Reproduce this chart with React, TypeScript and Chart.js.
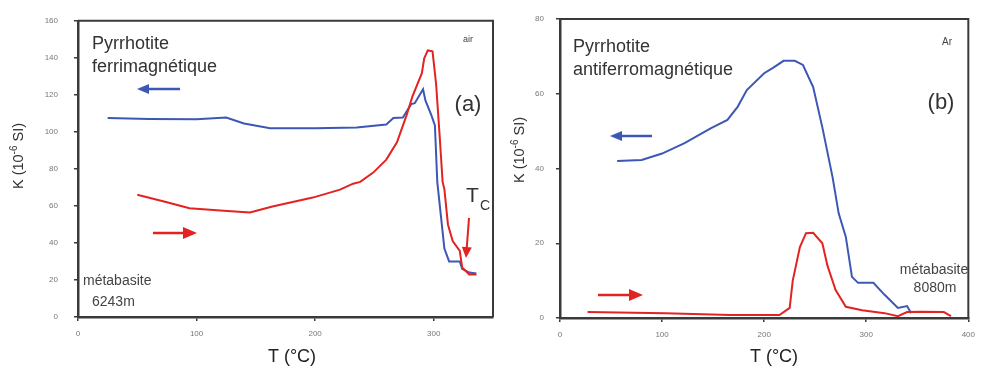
import React, { useEffect, useRef } from "react";
import { Chart, registerables } from "chart.js";

Chart.register(...registerables);

// ---- Panel (a): air, métabasite 6243m ----
const aBlueT = [25, 60, 100, 125, 140, 162, 200, 235, 260, 266, 274, 281, 284, 291, 293, 298, 301, 303, 306, 309, 313, 322, 324, 330, 336];
const aBlueK = [107.5, 107, 106.8, 107.7, 104.5, 102, 102, 102.3, 104, 107.5, 107.7, 115, 115.5, 123, 117, 109, 103.5, 73, 55, 37, 30, 30, 26, 24, 23.5];
const aRedT = [50, 75, 94, 120, 145, 164, 198, 221, 232, 238, 249, 260, 269, 277, 282, 290, 292, 295, 299, 302, 305, 307.5, 309, 312, 316, 322, 324, 330, 336];
const aRedK = [66, 62, 58.7, 57.5, 56.5, 59.7, 64.5, 68.8, 72, 73, 78, 85, 94.4, 108.8, 119, 131.7, 139.7, 144, 143.5, 126, 98, 73, 69, 50, 41, 35.7, 26.7, 23, 23];

// ---- Panel (b): Ar, métabasite 8080m ----
const bBlueT = [56, 80, 100, 122, 148, 164, 174, 183, 200, 209, 219, 230, 238, 248, 257, 267, 273, 280, 286, 292, 307, 318, 331, 340, 344];
const bBlueK = [42, 42.3, 44, 46.8, 50.8, 53, 56.5, 61, 65.5, 67, 68.8, 68.8, 67.7, 61.8, 51, 37.7, 28, 21.7, 11, 9.4, 9.4, 6.2, 2.7, 3.2, 1.3];
const bRedT = [27, 103, 167, 215, 225, 228, 235, 241, 248, 257, 262, 270, 280, 296, 318, 331, 340, 354, 376, 383];
const bRedK = [1.6, 1.3, 0.8, 0.8, 2.7, 10, 19, 22.7, 22.8, 20, 14, 7.5, 3, 2.1, 1.3, 0.5, 1.6, 1.7, 1.6, 0.5];

const xTicksA = [0, 100, 200, 300];
const xTicksB = [0, 100, 200, 300, 400];

const BLUE = "#3d57b4";
const RED = "#e32222";
const AXIS = "#3a3a3a";
const FONT = '"Liberation Sans", Arial, sans-serif';

const H = 367;

function pts(t: number[], k: number[]) {
  return t.map((x, i) => ({ x, y: k[i] }));
}

function arrow(ctx: CanvasRenderingContext2D, x1: number, y1: number, x2: number, y2: number, color: string, lw: number, hl: number, hw: number) {
  const ang = Math.atan2(y2 - y1, x2 - x1);
  ctx.save();
  ctx.strokeStyle = color;
  ctx.fillStyle = color;
  ctx.lineWidth = lw;
  ctx.beginPath();
  ctx.moveTo(x1, y1);
  ctx.lineTo(x2 - Math.cos(ang) * hl * 0.8, y2 - Math.sin(ang) * hl * 0.8);
  ctx.stroke();
  ctx.beginPath();
  ctx.moveTo(x2, y2);
  ctx.lineTo(x2 - Math.cos(ang) * hl - Math.sin(ang) * hw / 2, y2 - Math.sin(ang) * hl + Math.cos(ang) * hw / 2);
  ctx.lineTo(x2 - Math.cos(ang) * hl + Math.sin(ang) * hw / 2, y2 - Math.sin(ang) * hl - Math.cos(ang) * hw / 2);
  ctx.closePath();
  ctx.fill();
  ctx.restore();
}

function text(ctx: CanvasRenderingContext2D, s: string, x: number, y: number, size: number, align: CanvasTextAlign = "left", color = "#333") {
  ctx.save();
  ctx.font = `${size}px ${FONT}`;
  ctx.fillStyle = color;
  ctx.textAlign = align;
  ctx.textBaseline = "middle";
  ctx.fillText(s, x, y);
  ctx.restore();
}

function yTitle(ctx: CanvasRenderingContext2D, cx: number, cy: number) {
  ctx.save();
  ctx.translate(cx, cy);
  ctx.rotate(-Math.PI / 2);
  ctx.fillStyle = "#333";
  ctx.textBaseline = "middle";
  const main = 14.5;
  const sup = 10;
  const p1 = "K (10";
  const p2 = "-6";
  const p3 = " SI)";
  ctx.font = `${main}px ${FONT}`;
  const w1 = ctx.measureText(p1).width;
  const w3 = ctx.measureText(p3).width;
  ctx.font = `${sup}px ${FONT}`;
  const w2 = ctx.measureText(p2).width;
  let x = -(w1 + w2 + w3) / 2;
  ctx.font = `${main}px ${FONT}`;
  ctx.fillText(p1, x, 0);
  x += w1;
  ctx.font = `${sup}px ${FONT}`;
  ctx.fillText(p2, x, -5);
  x += w2;
  ctx.font = `${main}px ${FONT}`;
  ctx.fillText(p3, x, 0);
  ctx.restore();
}

function xTitle(ctx: CanvasRenderingContext2D, cx: number, cy: number) {
  text(ctx, "T (°C)", cx, cy, 18, "center", "#222");
}

type PanelDef = {
  left: number;
  width: number;
  areaL: number;
  areaR: number;
  areaT: number;
  areaB: number;
  xMax: number;
  yMax: number;
  xTicks: number[];
  blue: { x: number; y: number }[];
  red: { x: number; y: number }[];
  yPad: number;
  decorate: (ctx: CanvasRenderingContext2D) => void;
};

const panelA: PanelDef = {
  left: 0,
  width: 500,
  areaL: 78,
  areaR: 493,
  areaT: 17,
  areaB: 317,
  xMax: 350,
  yMax: 160,
  xTicks: xTicksA,
  blue: pts(aBlueT, aBlueK),
  red: pts(aRedT, aRedK),
  yPad: 16,
  decorate: (ctx) => {
    text(ctx, "Pyrrhotite", 92, 44, 18);
    text(ctx, "ferrimagnétique", 92, 67, 18);
    text(ctx, "air", 463, 40, 9, "left", "#444");
    text(ctx, "(a)", 468, 105, 22, "center", "#333");
    text(ctx, "métabasite", 83, 281, 14, "left", "#444");
    text(ctx, "6243m", 92, 302, 14, "left", "#444");
    arrow(ctx, 180, 89, 137, 89, BLUE, 2.5, 12, 10);
    arrow(ctx, 153, 233, 197, 233, RED, 2.5, 14, 12);
    // T_C label and arrow
    text(ctx, "T", 466, 196, 21, "left", "#333");
    text(ctx, "C", 480, 206, 14, "left", "#333");
    arrow(ctx, 469, 218, 466, 258, RED, 2, 11, 10);
    yTitle(ctx, 19, 156);
    xTitle(ctx, 292, 357);
  },
};

const panelB: PanelDef = {
  left: 500,
  width: 483,
  areaL: 60,
  areaR: 476,
  areaT: 19,
  areaB: 318,
  xMax: 400,
  yMax: 80,
  xTicks: xTicksB,
  blue: pts(bBlueT, bBlueK),
  red: pts(bRedT, bRedK),
  yPad: 12,
  decorate: (ctx) => {
    text(ctx, "Pyrrhotite", 73, 47, 18);
    text(ctx, "antiferromagnétique", 73, 70, 18);
    text(ctx, "Ar", 447, 42, 10, "center", "#444");
    text(ctx, "(b)", 441, 103, 22, "center", "#333");
    text(ctx, "métabasite", 434, 270, 14, "center", "#444");
    text(ctx, "8080m", 435, 288, 14, "center", "#444");
    arrow(ctx, 152, 136, 110, 136, BLUE, 2.5, 12, 10);
    arrow(ctx, 98, 295, 143, 295, RED, 2.5, 14, 12);
    yTitle(ctx, 20, 150);
    xTitle(ctx, 274, 357);
  },
};

function Panel({ def }: { def: PanelDef }) {
  const ref = useRef<HTMLCanvasElement | null>(null);
  useEffect(() => {
    if (!ref.current) return;
    const framePlugin = {
      id: "frameDeco",
      afterDraw(chart: any) {
        const ctx = chart.ctx as CanvasRenderingContext2D;
        const a = chart.chartArea;
        ctx.save();
        ctx.strokeStyle = AXIS;
        ctx.lineWidth = 2;
        ctx.beginPath();
        ctx.moveTo(a.left, a.top);
        ctx.lineTo(a.right, a.top);
        ctx.lineTo(a.right, a.bottom);
        ctx.stroke();
        ctx.restore();
        def.decorate(ctx);
      },
    };
    const chart = new Chart(ref.current, {
      type: "scatter",
      data: {
        datasets: [
          {
            data: def.red,
            showLine: true,
            borderColor: RED,
            borderWidth: 2,
            pointRadius: 0,
            tension: 0,
          },
          {
            data: def.blue,
            showLine: true,
            borderColor: BLUE,
            borderWidth: 2,
            pointRadius: 0,
            tension: 0,
          },
        ],
      },
      options: {
        animation: false,
        responsive: false,
        maintainAspectRatio: false,
        events: [],
        layout: {
          padding: { left: 0, top: def.areaT, right: def.width - def.areaR, bottom: 0 },
        },
        plugins: { legend: { display: false }, tooltip: { enabled: false }, title: { display: false } },
        scales: {
          x: {
            type: "linear",
            min: 0,
            max: def.xMax,
            afterFit: (s: any) => {
              s.height = H - def.areaB;
            },
            afterBuildTicks: (s: any) => {
              s.ticks = def.xTicks.map((v) => ({ value: v }));
            },
            border: { display: true, color: AXIS, width: 2.5 },
            grid: { drawOnChartArea: false, drawTicks: true, tickLength: 4, color: AXIS, lineWidth: 1.5 },
            ticks: { color: "#777", font: { size: 8, family: FONT }, padding: 8, maxRotation: 0 },
          },
          y: {
            type: "linear",
            min: 0,
            max: def.yMax,
            afterFit: (s: any) => {
              s.width = def.areaL;
            },
            border: { display: true, color: AXIS, width: 2.5 },
            grid: { drawOnChartArea: false, drawTicks: true, tickLength: 4, color: AXIS, lineWidth: 1.5 },
            ticks: { stepSize: 20, color: "#777", font: { size: 8, family: FONT }, padding: def.yPad },
          },
        },
      },
      plugins: [framePlugin],
    } as any);
    return () => chart.destroy();
  }, [def]);
  return (
    <div style={{ position: "absolute", left: def.left, top: 0, width: def.width, height: H }}>
      <canvas ref={ref} width={def.width} height={H} style={{ width: def.width, height: H, display: "block" }} />
    </div>
  );
}

export default function App() {
  return (
    <div style={{ position: "absolute", left: 0, top: 0, width: 983, height: H, background: "#fff" }}>
      <Panel def={panelA} />
      <Panel def={panelB} />
    </div>
  );
}
